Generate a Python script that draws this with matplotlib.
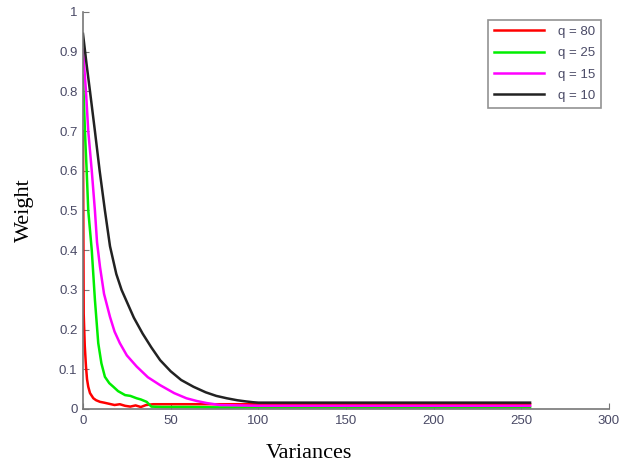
import matplotlib
matplotlib.use("Agg")
import matplotlib.pyplot as plt

# values
x_q80 = [0, 0.4, 1, 1.7, 2.3, 3, 4, 5.9, 7.5, 9.7, 12, 15, 18, 21, 24, 27, 30, 33, 36, 40, 50, 80, 255]
y_q80 = [0.70, 0.24, 0.16, 0.107, 0.075, 0.056, 0.04, 0.027, 0.022, 0.018, 0.016, 0.013, 0.010,
         0.012, 0.008, 0.006, 0.009, 0.005, 0.010, 0.012, 0.012, 0.012, 0.012]

x_q25 = [0, 1.1, 2.1, 3, 5, 6.8, 8.7, 10.5, 12.5, 15, 17.3, 20, 24, 27, 30.6, 33, 36.3, 39, 45, 60, 78, 120, 255]
y_q25 = [0.84, 0.70, 0.60, 0.50, 0.40, 0.275, 0.166, 0.115, 0.081, 0.065, 0.056, 0.045, 0.035,
         0.033, 0.027, 0.024, 0.018, 0.006, 0.005, 0.005, 0.004, 0.004, 0.004]

x_q15 = [0, 1.7, 3, 5, 6.8, 8, 9.7, 12, 15.4, 18, 21, 25, 30.6, 37, 44, 52, 59, 65, 70.5, 78, 100, 150, 255]
y_q15 = [0.905, 0.80, 0.70, 0.60, 0.50, 0.42, 0.358, 0.29, 0.232, 0.195, 0.166, 0.135, 0.107,
         0.08, 0.06, 0.04, 0.027, 0.02, 0.015, 0.01, 0.008, 0.008, 0.008]

x_q10 = [0, 2, 4, 6.8, 9.5, 12.5, 15.4, 19, 22, 25, 29, 34, 39, 44, 50, 56, 63, 70, 76, 82, 88, 93, 97, 100, 130, 180, 255]
y_q10 = [0.945, 0.87, 0.80, 0.70, 0.60, 0.50, 0.41, 0.34, 0.30, 0.27, 0.23, 0.19, 0.155, 0.123,
         0.095, 0.073, 0.056, 0.042, 0.033, 0.027, 0.022, 0.019, 0.017, 0.016, 0.016, 0.016, 0.016]

x_ticks = [0, 50, 100, 150, 200, 250, 300]
y_ticks = [0, 0.1, 0.2, 0.3, 0.4, 0.5, 0.6, 0.7, 0.8, 0.9, 1]
y_tick_labels = ["0", "0.1", "0.2", "0.3", "0.4", "0.5", "0.6", "0.7", "0.8", "0.9", "1"]

fig = plt.figure(figsize=(6.35, 4.72), dpi=100)
ax = fig.add_axes([0.1307, 0.1335, 0.8283, 0.8411])

ax.plot(x_q80, y_q80, color="#ff0000", lw=1.8, label="q = 80")
ax.plot(x_q25, y_q25, color="#00ee00", lw=1.8, label="q = 25")
ax.plot(x_q15, y_q15, color="#ff00ff", lw=1.8, label="q = 15")
ax.plot(x_q10, y_q10, color="#222222", lw=1.8, label="q = 10")

ax.set_xlim(0, 300)
ax.set_ylim(0, 1)
ax.set_xticks(x_ticks)
ax.set_yticks(y_ticks)
ax.set_yticklabels(y_tick_labels)

for s in ["top", "right"]:
    ax.spines[s].set_visible(False)
for s in ["left", "bottom"]:
    ax.spines[s].set_color("#777777")
    ax.spines[s].set_linewidth(1.2)

ax.tick_params(direction="in", length=4, color="#777777", labelsize=9.5,
               labelcolor="#4a4a66", pad=4)
for lab in ax.get_xticklabels() + ax.get_yticklabels():
    lab.set_family("Liberation Sans")

ax.set_xlabel("Variances", family="Liberation Serif", fontsize=16)
ax.set_ylabel("Weight", family="Liberation Serif", fontsize=16)
ax.xaxis.set_label_coords(0.43, -0.088)
ax.yaxis.set_label_coords(-0.093, 0.5)

leg = ax.legend(loc="upper right", bbox_to_anchor=(0.985, 0.98), borderaxespad=0,
                handlelength=3.8, handletextpad=1.05, labelspacing=0.68, borderpad=0.45,
                fancybox=False, prop={"family": "Liberation Sans", "size": 9.5})
leg.get_frame().set_edgecolor("#777777")
leg.get_frame().set_linewidth(1.2)
for t in leg.get_texts():
    t.set_color("#4a4a66")

fig.savefig("out.png", dpi=100)
